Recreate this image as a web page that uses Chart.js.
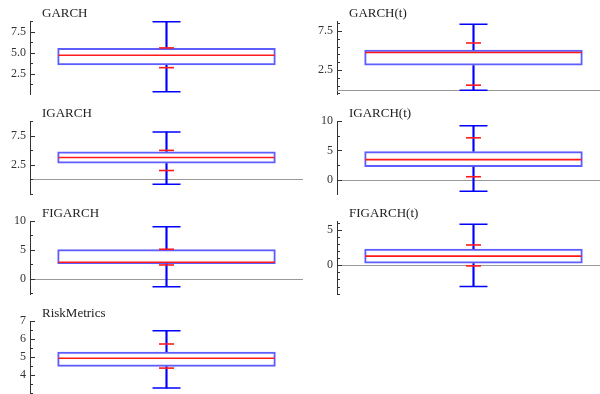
<!DOCTYPE html>
<html>
<head>
<meta charset="utf-8">
<script src="https://cdn.jsdelivr.net/npm/chart.js@4/dist/chart.umd.min.js"></script>
<style>
html,body{margin:0;padding:0;background:#fff}
body{width:600px;height:394px;position:relative;overflow:hidden}
canvas{position:absolute}
.ttl{position:absolute;font:13px "Liberation Serif","Times New Roman",serif;color:#222;line-height:13px;white-space:nowrap}
</style>
</head>
<body>
<script>
const names=["GARCH","GARCH(t)","IGARCH","IGARCH(t)","FIGARCH","FIGARCH(t)","RiskMetrics"];
const whiskerLow=[0.38,-0.09,-0.84,-1.93,-1.33,-3.0,3.30];
const quartile1=[3.5,3.06,2.72,2.17,2.59,0.24,4.48];
const medians=[4.7,4.74,3.76,3.44,2.88,1.29,4.94];
const quartile3=[5.56,5.09,4.79,4.87,5.12,2.34,5.30];
const whiskerHigh=[8.65,8.33,8.12,9.2,9.02,5.77,6.46];
const markLow=[3.22,0.56,1.52,0.53,2.41,-0.09,4.40];
const markHigh=[5.56,5.95,4.97,7.14,5.12,2.86,5.73];
const axisMin=[0.1,-0.57,-2.5,-2.4,-2.6,-4.05,2.97];
const axisMax=[8.75,8.76,10,10,10,6.24,7];
const tickBase=[0,0.5,0,0,0,0,0];
const tickStep=[1.25,1,2.5,2.5,2.5,1,0.5];
const tickLabels=[["2.5","5.0","7.5"],["2.5","7.5"],["2.5","7.5"],["0","5","10"],["0","5","10"],["0","5"],["4","5","6","7"]];

const font={family:"'Liberation Serif','Times New Roman',serif",size:12};
const blue="#0000ff",red="#ff1a1a";
const labelFor=(i,v)=>tickLabels[i].find(l=>Math.abs(parseFloat(l)-v)<1e-6)||"";

const deco={id:"deco",
  beforeDatasetsDraw(c){const y=c.scales.y,a=c.chartArea,x=c.ctx;
    if(y.min<0&&y.max>0){const p=Math.round(y.getPixelForValue(0))+0.5;
      x.save();x.strokeStyle="#999";x.lineWidth=1;x.beginPath();x.moveTo(a.left,p);x.lineTo(a.right,p);x.stroke();x.restore();}},
  afterDraw(c){const y=c.scales.y,a=c.chartArea,x=c.ctx,i=c.options.panelIndex;
    x.save();x.strokeStyle="#333";x.lineWidth=1;
    y.ticks.forEach(t=>{const p=Math.round(y.getPixelForValue(t.value))+0.5,len=labelFor(i,t.value)?5:3;
      x.beginPath();x.moveTo(a.left,p);x.lineTo(a.left+len,p);x.stroke();});
    x.restore();}
};

names.forEach((n,i)=>{
  const col=i%2,row=Math.floor(i/2);
  const cv=document.createElement("canvas");
  cv.width=303;cv.height=100;
  cv.style.left=(col?307:0)+"px";cv.style.top=(row*100)+"px";
  document.body.appendChild(cv);
  const t=document.createElement("div");
  t.className="ttl";t.textContent=n;
  t.style.left=(col?349:42)+"px";t.style.top=(row*100+6)+"px";
  document.body.appendChild(t);
  new Chart(cv,{type:"bar",data:{labels:[n],datasets:[
    {type:"line",data:[{x:n,y:markHigh[i]},{x:n,y:markLow[i]}],showLine:false,pointStyle:"line",pointRadius:7.5,pointBorderColor:red,pointBorderWidth:1.6},
    {type:"line",data:[{x:n,y:medians[i]}],showLine:false,pointStyle:"line",pointRadius:ctx=>ctx.chart.chartArea?ctx.chart.chartArea.width*0.4-1:0,pointBorderColor:red,pointBorderWidth:1.6},
    {type:"line",data:[{x:n,y:whiskerHigh[i]},{x:n,y:whiskerLow[i]}],showLine:false,pointStyle:"line",pointRadius:14,pointBorderColor:blue,pointBorderWidth:1.5},
    {data:[[quartile1[i],quartile3[i]]],grouped:false,barPercentage:0.8,categoryPercentage:1,backgroundColor:"rgba(255,255,255,0)",borderColor:"rgba(40,40,255,0.75)",borderWidth:2,borderSkipped:false},
    {data:[[quartile3[i],whiskerHigh[i]]],grouped:false,barThickness:1.5,backgroundColor:blue,borderWidth:0},
    {data:[[whiskerLow[i],quartile1[i]]],grouped:false,barThickness:1.5,backgroundColor:blue,borderWidth:0}
  ]},options:{panelIndex:i,responsive:false,animation:false,events:[],
    layout:{autoPadding:false,padding:{top:21,bottom:6,left:0,right:0}},
    plugins:{legend:{display:false},tooltip:{enabled:false}},
    scales:{
      x:{display:false},
      y:{min:axisMin[i],max:axisMax[i],
        afterFit:s=>{s.width=30;s.paddingTop=0;s.paddingBottom=0},
        afterBuildTicks:s=>{const tk=[];const st=tickStep[i],b=tickBase[i];
          for(let v=b+Math.ceil((axisMin[i]-b)/st-1e-9)*st;v<=axisMax[i]+1e-9;v+=st)tk.push({value:+v.toFixed(4)});
          s.ticks=tk;},
        grid:{display:true,drawOnChartArea:false,drawTicks:false},
        border:{display:true,color:"#333",width:1},
        ticks:{padding:4,font,color:"#333",autoSkip:false,callback:v=>labelFor(i,v)}}
    }},plugins:[deco]});
});
</script>
</body>
</html>
